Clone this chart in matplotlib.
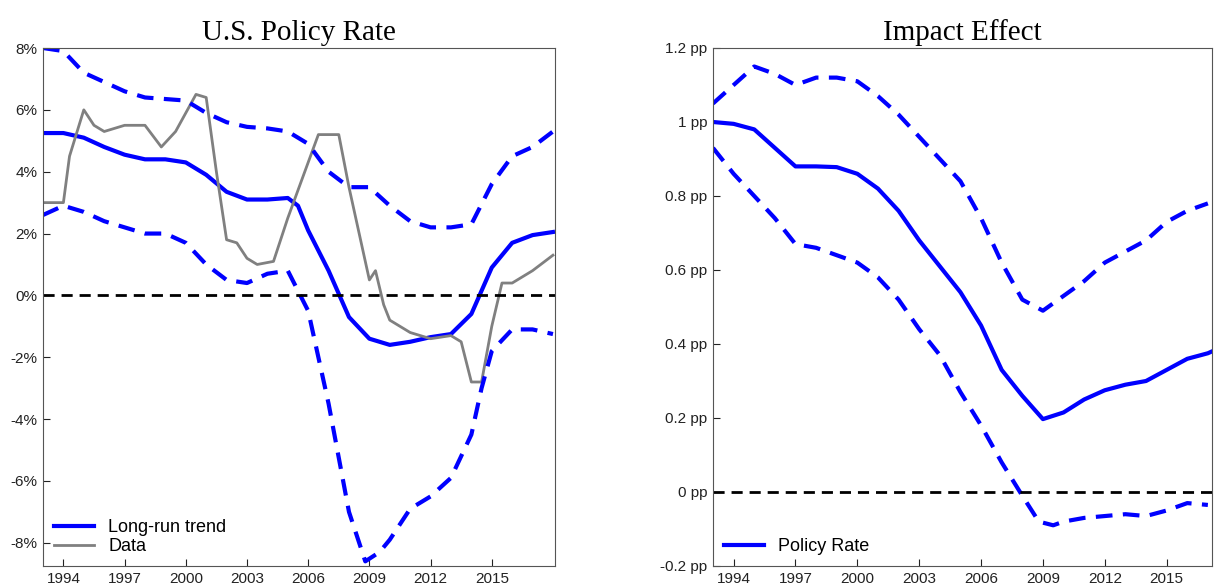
import matplotlib
matplotlib.use("Agg")
import matplotlib.pyplot as plt

plt.rcParams['font.family'] = 'Liberation Sans'

# left panel: U.S. policy rate
yrs_t = [1993, 1994, 1995, 1996, 1997, 1998, 1999, 2000, 2001, 2002, 2003, 2004, 2005, 2005.5, 2006, 2007, 2008,
         2009, 2010, 2011, 2012, 2013, 2014, 2015, 2016, 2017, 2018]
trend = [5.25, 5.25, 5.1, 4.8, 4.55, 4.4, 4.4, 4.3, 3.9, 3.35, 3.1, 3.1, 3.15, 2.9, 2.1, 0.8, -0.7,
         -1.4, -1.6, -1.5, -1.35, -1.25, -0.6, 0.9, 1.7, 1.95, 2.05]
upper = [8.0, 7.9, 7.2, 6.9, 6.6, 6.4, 6.35, 6.3, 5.9, 5.6, 5.45, 5.4, 5.3, 5.1, 4.9, 4.0, 3.5,
         3.5, 2.9, 2.4, 2.2, 2.2, 2.3, 3.6, 4.5, 4.8, 5.3]
yrs_lo = [1993, 1994, 1995, 1996, 1997, 1998, 1999, 2000, 2001, 2002, 2003, 2004, 2005, 2006, 2007, 2008, 2008.8,
          2009.5, 2010, 2011, 2012, 2013, 2014, 2014.5, 2015, 2016, 2017, 2018]
lower = [2.6, 2.9, 2.7, 2.4, 2.2, 2.0, 2.0, 1.7, 1.0, 0.5, 0.4, 0.7, 0.8, -0.5, -3.5, -7.0, -8.6,
         -8.3, -7.9, -6.9, -6.5, -5.9, -4.5, -3.0, -1.8, -1.1, -1.1, -1.25]
yrs_d = [1993, 1994, 1994.3, 1995, 1995.5, 1996, 1997, 1998, 1998.8, 1999.5, 2000.5, 2001, 2001.5, 2002, 2002.5,
         2003, 2003.5, 2004.3, 2005, 2006, 2006.5, 2007.5, 2008, 2008.5, 2009, 2009.3, 2009.7, 2010, 2011, 2012,
         2013, 2013.5, 2014, 2014.5, 2015, 2015.5, 2016, 2017, 2018]
data = [3.0, 3.0, 4.5, 6.0, 5.5, 5.3, 5.5, 5.5, 4.8, 5.3, 6.5, 6.4, 4.0, 1.8, 1.7,
        1.2, 1.0, 1.1, 2.5, 4.3, 5.2, 5.2, 3.5, 2.0, 0.5, 0.8, -0.3, -0.8, -1.2, -1.4,
        -1.3, -1.5, -2.8, -2.8, -1.0, 0.4, 0.4, 0.8, 1.3]

# right panel: impact effect
yrs_r = [1993, 1994, 1995, 1996, 1997, 1998, 1999, 2000, 2001, 2002, 2003, 2004, 2005, 2006, 2007, 2008,
         2009, 2010, 2011, 2012, 2013, 2014, 2015, 2016, 2017, 2017.2]
impact = [1.0, 0.995, 0.98, 0.93, 0.88, 0.88, 0.878, 0.86, 0.82, 0.76, 0.68, 0.61, 0.54, 0.45, 0.33, 0.26,
          0.197, 0.215, 0.25, 0.275, 0.29, 0.30, 0.33, 0.36, 0.375, 0.38]
yrs_ru = [1993, 1994, 1995, 1996, 1997, 1998, 1999, 2000, 2001, 2002, 2003, 2004, 2005, 2006, 2007, 2008,
          2009, 2010, 2011, 2012, 2013, 2014, 2015, 2016, 2017]
imp_up = [1.05, 1.1, 1.15, 1.13, 1.10, 1.12, 1.12, 1.11, 1.07, 1.02, 0.96, 0.90, 0.84, 0.74, 0.62, 0.52,
          0.49, 0.53, 0.57, 0.62, 0.65, 0.68, 0.73, 0.76, 0.78]
yrs_rl = [1993, 1994, 1995, 1996, 1997, 1998, 1999, 2000, 2001, 2002, 2003, 2004, 2005, 2006, 2007, 2008, 2008.8,
          2009.5, 2010, 2011, 2012, 2013, 2014, 2015, 2016, 2017]
imp_lo = [0.93, 0.86, 0.80, 0.74, 0.67, 0.66, 0.64, 0.62, 0.58, 0.52, 0.44, 0.37, 0.27, 0.18, 0.08, -0.01, -0.08,
          -0.09, -0.08, -0.07, -0.065, -0.06, -0.065, -0.05, -0.03, -0.035]

xticks = [1994, 1997, 2000, 2003, 2006, 2009, 2012, 2015]

fig = plt.figure(figsize=(12.14, 5.88), dpi=100)
ax1 = fig.add_axes([43/1214, 1-566/588, 512/1214, 518/588])
ax2 = fig.add_axes([713/1214, 1-566/588, 499/1214, 518/588])

ax1.plot(yrs_t, trend, color='blue', lw=3, label='Long-run trend')
ax1.plot(yrs_d, data, color='gray', lw=2, label='Data')
ax1.plot(yrs_t, upper, color='blue', lw=3, ls=(0, (4, 2.5)))
ax1.plot(yrs_lo, lower, color='blue', lw=3, ls=(0, (4, 2.5)))
ax1.axhline(0, color='black', lw=2, ls=(0, (4, 2.5)))
ax1.set_xlim(1993, 2018.1)
ax1.set_ylim(-8.75, 8)
ax1.set_yticks(range(-8, 9, 2))
ax1.set_yticklabels([f'{v}%' for v in range(-8, 9, 2)])
ax1.set_title('U.S. Policy Rate', family='Liberation Serif', fontsize=21)
ax1.legend(loc='lower left', frameon=False, fontsize=13, handlelength=2.2,
           borderaxespad=0.2, labelspacing=0.1)

ax2.plot(yrs_r, impact, color='blue', lw=3, label='Policy Rate')
ax2.plot(yrs_ru, imp_up, color='blue', lw=3, ls=(0, (4, 2.5)))
ax2.plot(yrs_rl, imp_lo, color='blue', lw=3, ls=(0, (4, 2.5)))
ax2.axhline(0, color='black', lw=2, ls=(0, (4, 2.5)))
ax2.set_xlim(1993, 2017.2)
ax2.set_ylim(-0.2, 1.2)
yt = [-0.2, 0, 0.2, 0.4, 0.6, 0.8, 1, 1.2]
ax2.set_yticks(yt)
ax2.set_yticklabels([f'{v:g} pp' for v in yt])
ax2.set_title('Impact Effect', family='Liberation Serif', fontsize=21)
ax2.legend(loc='lower left', frameon=False, fontsize=13, handlelength=2.2, borderaxespad=0.2)

for ax in (ax1, ax2):
    ax.set_xticks(xticks)
    ax.tick_params(direction='in', labelsize=11, colors='#222222', length=5, pad=4)
    for s in ax.spines.values():
        s.set_color('#555555')

fig.savefig('out.png', dpi=100)
